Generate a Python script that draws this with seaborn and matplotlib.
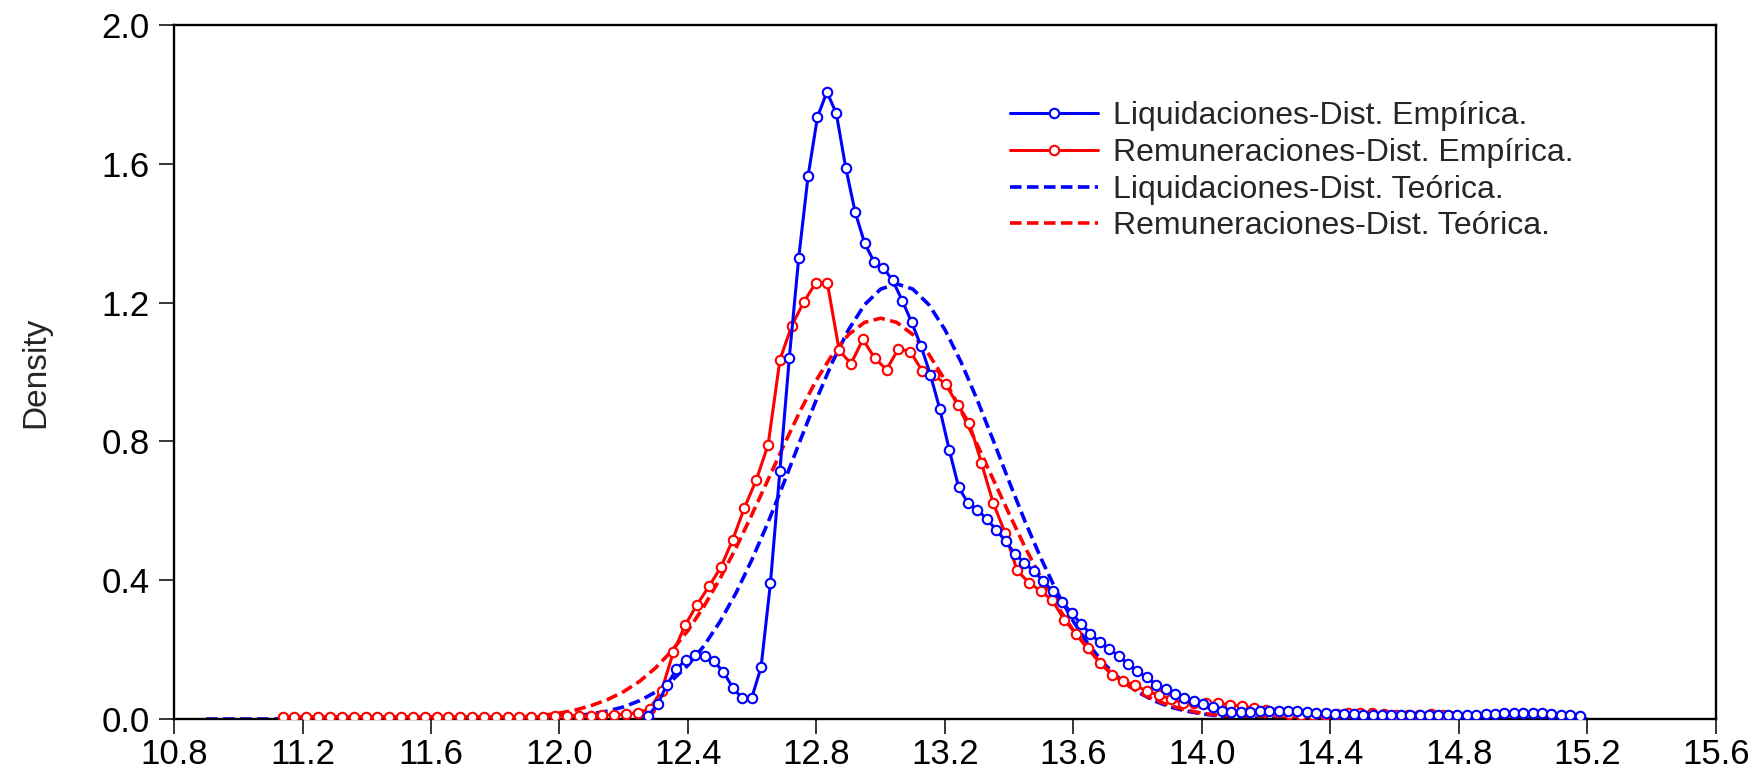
import numpy as np
import matplotlib
matplotlib.use("Agg")
import matplotlib.pyplot as plt
import seaborn as sns

# empirical kernel densities, 100 evaluation points each (grid start, end)
liq_grid = (12.276, 15.176)
liq_emp = [
    0.010, 0.042, 0.099, 0.143, 0.171, 0.185, 0.183, 0.166, 0.136, 0.090,
    0.060, 0.060, 0.149, 0.392, 0.714, 1.040, 1.328, 1.565, 1.735, 1.807,
    1.745, 1.589, 1.461, 1.372, 1.318, 1.300, 1.264, 1.206, 1.144, 1.075,
    0.992, 0.893, 0.776, 0.668, 0.622, 0.603, 0.576, 0.545, 0.512, 0.476,
    0.450, 0.426, 0.397, 0.368, 0.338, 0.306, 0.274, 0.246, 0.221, 0.202,
    0.182, 0.159, 0.138, 0.120, 0.099, 0.086, 0.071, 0.060, 0.052, 0.044,
    0.035, 0.024, 0.020, 0.019, 0.019, 0.022, 0.024, 0.024, 0.024, 0.022,
    0.020, 0.018, 0.016, 0.015, 0.014, 0.014, 0.013, 0.013, 0.013, 0.012,
    0.012, 0.012, 0.012, 0.012, 0.012, 0.012, 0.012, 0.013, 0.013, 0.014,
    0.015, 0.016, 0.017, 0.017, 0.017, 0.016, 0.015, 0.013, 0.012, 0.010,
]

rem_grid = (11.138, 14.788)
rem_emp = [
    0.007, 0.007, 0.007, 0.007, 0.007, 0.007, 0.007, 0.007, 0.007, 0.007,
    0.007, 0.007, 0.007, 0.007, 0.007, 0.007, 0.007, 0.007, 0.007, 0.007,
    0.007, 0.007, 0.007, 0.010, 0.010, 0.009, 0.009, 0.011, 0.012, 0.015,
    0.018, 0.029, 0.082, 0.193, 0.271, 0.330, 0.382, 0.437, 0.516, 0.609,
    0.689, 0.791, 1.036, 1.134, 1.201, 1.256, 1.256, 1.062, 1.024, 1.094,
    1.040, 1.007, 1.067, 1.059, 1.004, 0.992, 0.964, 0.906, 0.853, 0.739,
    0.623, 0.537, 0.430, 0.393, 0.370, 0.342, 0.286, 0.246, 0.205, 0.162,
    0.128, 0.109, 0.097, 0.080, 0.069, 0.058, 0.047, 0.046, 0.046, 0.045,
    0.041, 0.037, 0.032, 0.027, 0.020, 0.015, 0.012, 0.012, 0.013, 0.015,
    0.017, 0.017, 0.016, 0.014, 0.012, 0.012, 0.013, 0.014, 0.012, 0.010,
]

# theoretical (normal) curves, read every 0.05
liq_teo_grid = (10.90, 15.20)
liq_teo = [
    0, 0, 0, 0, 0, 0, 0, 0, 0, 0, 0, 0, 0, 0, 0, 0, 0, 0, 0,
    0.001, 0.002, 0.003, 0.005, 0.009, 0.015, 0.023, 0.035, 0.053, 0.078,
    0.111, 0.155, 0.211, 0.281, 0.364, 0.461, 0.568, 0.684, 0.804, 0.921,
    1.029, 1.122, 1.194, 1.239, 1.254, 1.239, 1.194, 1.122, 1.029, 0.921,
    0.804, 0.684, 0.568, 0.461, 0.364, 0.281, 0.211, 0.155, 0.111, 0.078,
    0.053, 0.035, 0.023, 0.015, 0.009, 0.005, 0.003, 0.002, 0.001,
    0, 0, 0, 0, 0, 0, 0, 0, 0, 0, 0, 0, 0, 0, 0, 0, 0, 0, 0,
]

rem_teo_grid = (11.15, 14.80)
rem_teo = [
    0, 0, 0, 0, 0, 0, 0, 0, 0, 0, 0,
    0.001, 0.002, 0.003, 0.005, 0.007, 0.011, 0.017, 0.026, 0.039, 0.056,
    0.079, 0.109, 0.148, 0.197, 0.255, 0.325, 0.405, 0.494, 0.591, 0.691,
    0.792, 0.889, 0.977, 1.051, 1.108, 1.143, 1.155, 1.143, 1.108, 1.051,
    0.977, 0.889, 0.792, 0.691, 0.591, 0.494, 0.405, 0.325, 0.255, 0.197,
    0.148, 0.109, 0.079, 0.056, 0.039, 0.026, 0.017, 0.011, 0.007, 0.005,
    0.003, 0.002, 0.001,
    0, 0, 0, 0, 0, 0, 0, 0, 0, 0,
]

series_labels = [
    "Liquidaciones-Dist. Empírica.",
    "Remuneraciones-Dist. Empírica.",
    "Liquidaciones-Dist. Teórica.",
    "Remuneraciones-Dist. Teórica.",
]
x_ticks = [10.8, 11.2, 11.6, 12.0, 12.4, 12.8, 13.2, 13.6, 14.0, 14.4, 14.8, 15.2, 15.6]
y_ticks = [0.0, 0.4, 0.8, 1.2, 1.6, 2.0]
y_label = "Density"


def grid(bounds, values):
    return np.linspace(bounds[0], bounds[1], len(values))


sns.set_style("ticks")
plt.rcParams["font.family"] = ["Liberation Sans", "DejaVu Sans"]

fig = plt.figure(figsize=(17.58, 7.69), dpi=100)
ax = fig.add_axes([0.099, 0.065, 0.877, 0.9025])

teo_style = dict(linewidth=2.6, linestyle=(0, (3.2, 1.5)), zorder=2)
emp_style = dict(linewidth=2.2, marker="o", markersize=6.8, markerfacecolor="white",
                 markeredgewidth=1.5)

sns.lineplot(x=grid(liq_teo_grid, liq_teo), y=liq_teo, ax=ax, color="blue",
             label=series_labels[2], **teo_style)
sns.lineplot(x=grid(rem_teo_grid, rem_teo), y=rem_teo, ax=ax, color="red",
             label=series_labels[3], **teo_style)
sns.lineplot(x=grid(rem_grid, rem_emp), y=rem_emp, ax=ax, color="red",
             markeredgecolor="red", label=series_labels[1], zorder=3, **emp_style)
sns.lineplot(x=grid(liq_grid, liq_emp), y=liq_emp, ax=ax, color="blue",
             markeredgecolor="blue", label=series_labels[0], zorder=4, **emp_style)

ax.set_xlim(x_ticks[0], x_ticks[-1])
ax.set_ylim(y_ticks[0], y_ticks[-1])
ax.set_xticks(x_ticks)
ax.set_xticklabels([f"{t:.1f}" for t in x_ticks])
ax.set_yticks(y_ticks)
ax.set_yticklabels([f"{t:.1f}" for t in y_ticks])
ax.tick_params(axis="both", direction="out", length=10.5, width=1.1, color="black",
               labelsize=25, labelcolor="black")
ax.tick_params(axis="x", pad=3)
ax.tick_params(axis="y", pad=7)
for sp in ax.spines.values():
    sp.set_visible(True)
    sp.set_color("black")
    sp.set_linewidth(1.7)

ax.set_xlabel("")
ax.set_ylabel(y_label, fontsize=24)
ax.yaxis.set_label_coords(-0.0795, 0.5)

handles, labs = ax.get_legend_handles_labels()
order = [labs.index(lab) for lab in series_labels]
ax.legend([handles[i] for i in order], series_labels, loc="upper left",
          bbox_to_anchor=(0.542, 0.890), frameon=False, fontsize=23,
          handlelength=2.75, handletextpad=0.47, labelspacing=0.21,
          borderaxespad=0, borderpad=0, numpoints=1)

fig.savefig("out.png", dpi=100)
